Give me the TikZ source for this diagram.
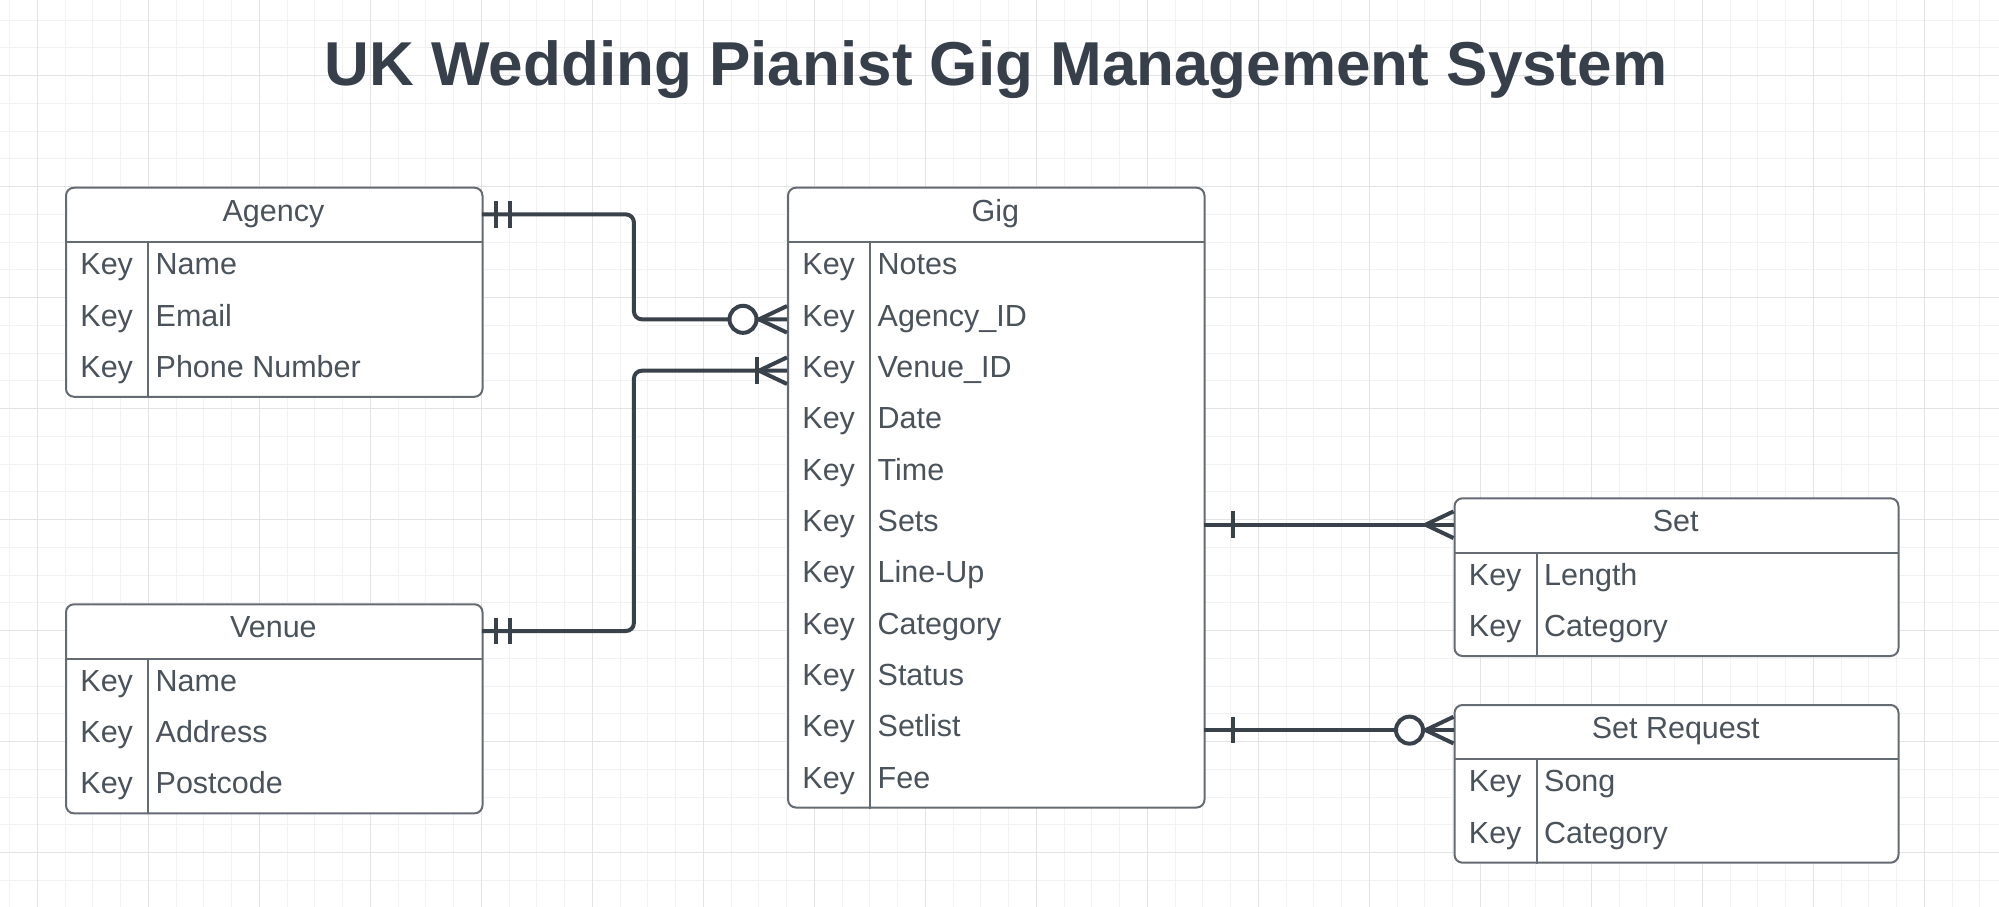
\documentclass[tikz,border=0pt]{standalone}
\usepackage{fontspec}
\setmainfont{Liberation Sans}
\definecolor{gridminor}{HTML}{F2F2F2}
\definecolor{gridmajor}{HTML}{E3E3E3}
\definecolor{boxline}{HTML}{646B73}
\definecolor{txt}{HTML}{4A525B}
\definecolor{conncol}{HTML}{39414B}
\definecolor{titlecol}{HTML}{363F4A}
\newcommand\bodyfont{\fontsize{30.5}{36}\selectfont}
\newcommand\fld[2]{\makebox[#1][l]{\makebox[83pt]{Key}\hspace{7.5pt}#2}}
\tikzset{
  ebox/.style={draw=boxline, line width=2pt, rounded corners=8pt, fill=white, inner sep=0pt, anchor=north west},
  eline/.style={draw=boxline, line width=2pt},
  hdr/.style={inner sep=0pt, minimum height=55pt, text height=20pt, text depth=6.6pt, anchor=north west, text=txt, font=\bodyfont},
  row/.style={inner sep=0pt, minimum height=51.35pt, text height=20pt, text depth=6.6pt, anchor=north west, text=txt, font=\bodyfont},
  conn/.style={draw=conncol, line width=4pt},
  gmin/.style={draw=gridminor, line width=1pt},
  gmaj/.style={draw=gridmajor, line width=1pt},
}
% id, x, y, width, rows, title, fields
\newcommand\erEntity[7]{%
  \node[ebox, minimum width=#4pt, minimum height={(55+51.35*#5)*1pt}] (#1) at (#2,#3) {};
  \node[hdr, minimum width=#4pt] (#1-hdr) at (#2,#3) {#6};
  \draw[eline] (#1-hdr.south west) -- (#1-hdr.south east);
  \draw[eline] ([xshift=83pt]#1-hdr.south west) -- ([xshift=83pt]#1.south west);
  \foreach \f [count=\i] in {#7} {
    \node[row] (#1-r\i) at ([yshift={(1-\i)*51.35pt}]#1-hdr.south west) {\fld{#4pt}{\f}};
  }
}
\newcommand\erTick[2]{\draw[conn] ([xshift=#2,yshift=13.3pt]#1) -- ([xshift=#2,yshift=-13.3pt]#1);}
\newcommand\erCrow[1]{\draw[conn, line join=round] ([yshift=13.3pt]#1) -- ([xshift=-28pt]#1) -- ([yshift=-13.3pt]#1);}
\newcommand\erRing[1]{\draw[conn, fill=white] ([xshift=-44pt]#1) circle[radius=13.5pt];}
\begin{document}
\begin{tikzpicture}[x=1pt, y=-1pt]
  \useasboundingbox (0,0) rectangle (1999,907);
  \fill[white] (0,0) rectangle (1999,907);
  % grid
  \foreach \i in {0,...,71} \draw[gmin] ({9.55+27.75*\i},0) -- ++(0,907);
  \foreach \j in {0,...,31} \draw[gmin] (0,{20.2+27.75*\j}) -- ++(1999,0);
  \foreach \i in {0,...,17} \draw[gmaj] ({37.3+111*\i},0) -- ++(0,907);
  \foreach \j in {0,...,7} \draw[gmaj] (0,{75.7+111*\j}) -- ++(1999,0);
  % title
  \node[anchor=base, inner sep=0pt, font=\fontsize{62}{70}\selectfont\bfseries, text=titlecol] (title) at (996,85) {UK Wedding Pianist Gig Management System};
  % entities
  \erEntity{agency}{65}{186.7}{416.5}{3}{Agency}{Name,Email,Phone Number}
  \erEntity{venue}{65}{603.3}{416.5}{3}{Venue}{Name,Address,Postcode}
  \erEntity{gig}{787}{186.7}{416.5}{11}{Gig}{Notes,Agency\_ID,Venue\_ID,Date,Time,Sets,Line-Up,Category,Status,Setlist,Fee}
  \erEntity{set}{1453.5}{497.3}{444}{2}{Set}{Length,Category}
  \erEntity{setreq}{1453.5}{704}{444}{2}{Set Request}{Song,Category}
  % connectors
  \draw[conn, rounded corners=8pt] (agency-hdr.east) -- ++(152,0) |- (gig-r2.west);
  \draw[conn, rounded corners=8pt] (venue-hdr.east) -- ++(152,0) |- (gig-r3.west);
  \coordinate (setin) at (gig-r6.east -| set.west);
  \coordinate (srin) at (gig-r10.east -| setreq.west);
  \draw[conn] (gig-r6.east) -- (setin);
  \draw[conn] (gig-r10.east) -- (srin);
  % ends
  \erTick{agency-hdr.east}{14.5pt}
  \erTick{agency-hdr.east}{28.5pt}
  \erTick{venue-hdr.east}{14.5pt}
  \erTick{venue-hdr.east}{28.5pt}
  \erRing{gig-r2.west}
  \erCrow{gig-r2.west}
  \erTick{gig-r3.west}{-29.7pt}
  \erCrow{gig-r3.west}
  \erTick{gig-r6.east}{29pt}
  \erCrow{setin}
  \erTick{gig-r10.east}{29pt}
  \erRing{srin}
  \erCrow{srin}
\end{tikzpicture}
\end{document}
